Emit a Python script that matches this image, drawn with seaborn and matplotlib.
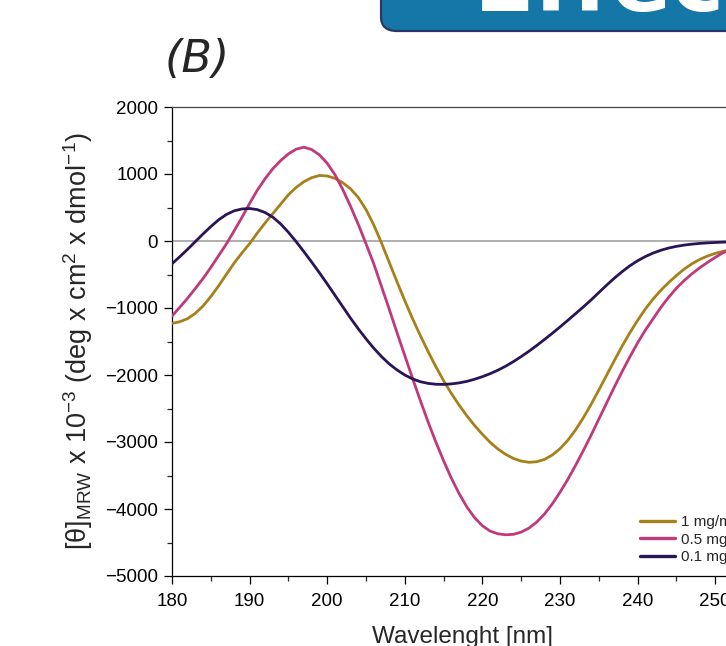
import matplotlib
matplotlib.use("Agg")
import matplotlib.pyplot as plt
import seaborn as sns
import pandas as pd
from matplotlib.patches import FancyBboxPatch
from matplotlib.ticker import MultipleLocator

# ---------------- data ----------------
wavelength = list(range(180, 261))

cd_1mg = [-1230, -1205, -1160, -1080, -970, -830, -670, -500, -330, -180,
          -40, 120, 270, 410, 550, 690, 800, 885, 945, 978,
          970, 935, 870, 780, 650, 470, 240, -30, -320, -610,
          -890, -1160, -1410, -1650, -1875, -2085, -2275, -2450, -2610, -2755,
          -2885, -3005, -3105, -3185, -3245, -3285, -3303, -3295, -3260, -3195,
          -3100, -2975, -2820, -2640, -2440, -2225, -2005, -1785, -1570, -1370,
          -1185, -1015, -865, -735, -620, -515, -420, -340, -275, -225,
          -185, -155, -130, -108, -88, -70, -55, -42, -31, -22,
          -15]

cd_05mg = [-1120, -990, -855, -710, -560, -395, -220, -45, 150, 350,
           560, 760, 930, 1080, 1200, 1300, 1370, 1400, 1365, 1285,
           1160, 990, 770, 520, 250, -40, -340, -680, -1020, -1370,
           -1710, -2050, -2380, -2700, -3000, -3280, -3540, -3770, -3970, -4130,
           -4250, -4330, -4370, -4385, -4378, -4345, -4285, -4195, -4075, -3925,
           -3750, -3560, -3350, -3130, -2900, -2660, -2420, -2180, -1950, -1730,
           -1520, -1330, -1160, -990, -840, -705, -590, -490, -400, -320,
           -245, -175, -125, -90, -62, -42, -28, -18, -10, -5,
           -2]

cd_01mg = [-340, -235, -125, -10, 105, 215, 315, 395, 450, 478,
           485, 468, 425, 355, 255, 130, -10, -160, -315, -475,
           -640, -810, -980, -1150, -1310, -1460, -1600, -1725, -1835, -1925,
           -2000, -2058, -2100, -2125, -2138, -2140, -2133, -2118, -2095, -2063,
           -2025, -1980, -1928, -1868, -1800, -1725, -1645, -1560, -1470, -1378,
           -1283, -1185, -1085, -985, -880, -770, -660, -555, -458, -370,
           -295, -232, -180, -138, -105, -80, -61, -47, -36, -28,
           -22, -17, -13, -10, -8, -6, -5, -4, -3, -2,
           -2]

labels = ["1 mg/mL", "0.5 mg/mL", "0.1 mg/mL"]
colors = ["#A8801A", "#C0397A", "#2A1458"]
x_ticks = [180, 190, 200, 210, 220, 230, 240, 250]
y_ticks = [2000, 1000, 0, -1000, -2000, -3000, -4000, -5000]

# ---------------- style ----------------
sns.set_theme(style="ticks")
plt.rcParams["font.family"] = ["Liberation Sans", "DejaVu Sans"]
plt.rcParams["mathtext.fontset"] = "custom"
plt.rcParams["mathtext.rm"] = "Liberation Sans"
plt.rcParams["mathtext.it"] = "Liberation Sans:italic"
plt.rcParams["axes.unicode_minus"] = True
plt.rcParams["lines.solid_joinstyle"] = "round"
plt.rcParams["lines.solid_capstyle"] = "round"

W, H = 726, 646
fig = plt.figure(figsize=(W / 100, H / 100), dpi=100)
fig.patch.set_facecolor("white")

left_px, top_px, bottom_px = 172, 107, 576
xmin, xmax = 180, 255
px_per_nm = 7.76
right_px = left_px + (xmax - xmin) * px_per_nm
ax = fig.add_axes([left_px / W, 1 - bottom_px / H,
                   (right_px - left_px) / W, (bottom_px - top_px) / H])
ax.set_facecolor("white")

df = pd.DataFrame({
    "wavelength": wavelength * 3,
    "cd": cd_1mg + cd_05mg + cd_01mg,
    "conc": [labels[0]] * len(wavelength) + [labels[1]] * len(wavelength) + [labels[2]] * len(wavelength),
})

ax.axhline(0, color="#A8A8A8", lw=1.3, zorder=1)

# draw order: navy, gold, pink (pink on top)
for idx in [2, 0, 1]:
    sub = df[df["conc"] == labels[idx]]
    sns.lineplot(data=sub, x="wavelength", y="cd", ax=ax, color=colors[idx],
                 lw=2.0, label=labels[idx], legend=False, zorder=3 + idx)
lines = ax.get_lines()[1:]
line_map = {l.get_label(): l for l in lines}

ax.set_xlim(xmin, xmax)
ax.set_ylim(-5000, 2000)
ax.set_xticks(x_ticks)
ax.set_yticks(y_ticks)
ax.xaxis.set_minor_locator(MultipleLocator(5))
ax.yaxis.set_minor_locator(MultipleLocator(500))
ax.tick_params(axis="both", which="major", direction="out", length=6, width=0.9,
               labelsize=13.5, colors="black")
ax.tick_params(axis="x", which="major", pad=6)
ax.tick_params(axis="y", which="major", pad=4)
ax.tick_params(axis="both", which="minor", direction="out", length=3.5, width=0.9)
for s in ["left", "bottom", "top"]:
    ax.spines[s].set_color("black")
    ax.spines[s].set_linewidth(0.9)
ax.spines["right"].set_visible(False)
ax.spines["top"].set_color("#444444")

ax.set_xlabel("Wavelenght [nm]", fontsize=17.5, labelpad=12)
ax.set_ylabel("[θ]$_{\\mathrm{MRW}}$ x 10$^{\\mathrm{-3}}$ (deg x cm$^{\\mathrm{2}}$ x dmol$^{\\mathrm{-1}}$)",
              fontsize=19.5, labelpad=7)

leg = fig.legend([line_map[l] for l in labels], labels,
                 loc="upper left", bbox_to_anchor=(640 / W, 1 - 515 / H),
                 bbox_transform=fig.transFigure, frameon=False, fontsize=11,
                 borderpad=0, borderaxespad=0, handlelength=2.3,
                 handletextpad=0.4, labelspacing=0.24)
for lh in leg.get_lines():
    lh.set_linewidth(2.4)

# panel letter
fig.text(165 / W, 1 - 72 / H, "(B)", fontsize=32, style="italic",
         family="DejaVu Sans", ha="left", va="baseline")

# banner at top right (cropped)
banner = FancyBboxPatch((381 / W, 1 - 31 / H), 500 / W, 80 / H,
                        boxstyle="round,pad=0,rounding_size=0.022",
                        transform=fig.transFigure, facecolor="#1577A7",
                        edgecolor="#2B3766", lw=1.6, zorder=10, clip_on=False)
fig.patches.append(banner)
fig.text(474 / W, 1 - 11 / H, "Effect", fontsize=64, color="white",
         weight="bold", family="DejaVu Sans", ha="left", va="baseline", zorder=11)

fig.savefig("out.png", dpi=100, facecolor="white")
